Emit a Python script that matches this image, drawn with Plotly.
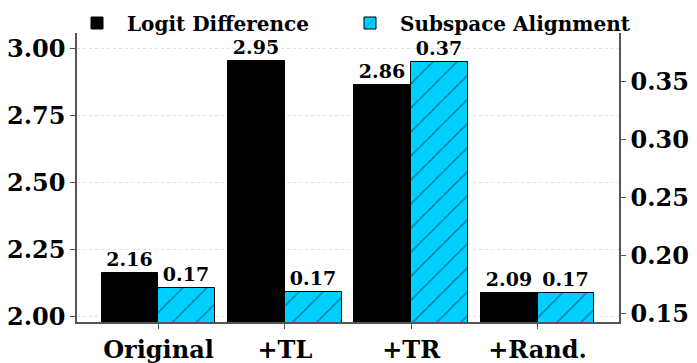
import plotly.graph_objects as go

categories = ["Original", "+TL", "+TR", "+Rand."]
logit_diff = [2.163, 2.953, 2.862, 2.088]
subspace_align = [0.1715, 0.1685, 0.3672, 0.1673]
left_ticks = [2.00, 2.25, 2.50, 2.75, 3.00]
right_ticks = [0.15, 0.20, 0.25, 0.30, 0.35]

FONT = "DejaVu Serif"
xpos = list(range(len(categories)))

fig = go.Figure()
fig.add_trace(go.Bar(
    x=xpos, y=logit_diff, name="Logit Difference",
    width=0.45, offset=-0.45,
    marker=dict(color="black", line=dict(color="black", width=1)),
    text=[f"{v:.2f}" for v in logit_diff], textposition="outside",
    textfont=dict(family=FONT, size=19, color="black", weight="bold"),
    cliponaxis=False, yaxis="y", legend="legend",
))
fig.add_trace(go.Bar(
    x=xpos, y=subspace_align, name="Subspace Alignment",
    width=0.45, offset=0,
    marker=dict(color="#00D0FF", line=dict(color="black", width=1),
                pattern=dict(shape="/", fgcolor="black", bgcolor="#00D0FF", size=17, solidity=0.07)),
    text=[f"{v:.2f}" for v in subspace_align], textposition="outside",
    textfont=dict(family=FONT, size=19, color="black", weight="bold"),
    cliponaxis=False, yaxis="y2", legend="legend2",
))

legend_style = dict(orientation="h", xanchor="left", xref="container",
                    y=1 - 23 / 363, yanchor="middle", yref="container",
                    font=dict(family=FONT, size=20, weight="bold"),
                    bgcolor="rgba(0,0,0,0)", itemwidth=50)

fig.update_layout(
    width=697, height=363,
    margin=dict(l=77, r=78, t=33, b=41, autoexpand=False),
    plot_bgcolor="white", paper_bgcolor="white",
    font=dict(family=FONT, color="black", weight="bold"),
    showlegend=True,
    legend=dict(x=67 / 697, **legend_style),
    legend2=dict(x=340 / 697, **legend_style),
    bargap=0,
    xaxis=dict(range=[-0.645, 3.645], tickvals=xpos, ticktext=categories,
               tickfont=dict(family=FONT, size=24, weight="bold"),
               showline=True, linecolor="#555", linewidth=1.5,
               ticks="outside", ticklen=5, tickcolor="#555", showgrid=False, zeroline=False),
    yaxis=dict(range=[1.98, 3.057], tickvals=left_ticks, tickformat=".2f",
               tickfont=dict(family=FONT, size=24, weight="bold"),
               showline=True, linecolor="#555", linewidth=1.5,
               ticks="outside", ticklen=5, tickcolor="#555",
               showgrid=True, gridcolor="#e0e0e0", griddash="dot", gridwidth=1, zeroline=False),
    yaxis2=dict(range=[0.1425, 0.392], tickvals=right_ticks, tickformat=".2f",
                overlaying="y", side="right",
                tickfont=dict(family=FONT, size=24, weight="bold"),
                showline=True, linecolor="#555", linewidth=1.5,
                ticks="outside", ticklen=5, tickcolor="#555", showgrid=False, zeroline=False),
)

fig.write_html("out.html", config={"displayModeBar": False},
               post_script="document.body.style.margin='0';document.body.style.overflow='hidden';")
